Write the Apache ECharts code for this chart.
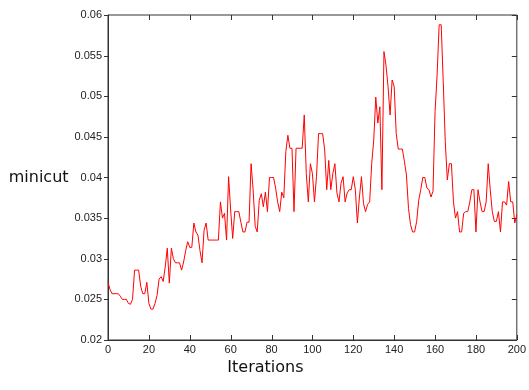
<!DOCTYPE html>
<html>
<head>
<meta charset="utf-8">
<script src="https://cdn.jsdelivr.net/npm/echarts@6/dist/echarts.min.js"></script>
<style>
  html, body { margin: 0; padding: 0; background: #fff; }
  #main { width: 529px; height: 390px; }
</style>
</head>
<body>
<div id="main"></div>
<script>
// minicut value per iteration (0..200)
const minicut = [
  0.0271, 0.0262, 0.0257, 0.0257, 0.0257, 0.0257, 0.0254, 0.0250, 0.0250, 0.0250,
  0.0245, 0.0244, 0.0250, 0.0286, 0.0286, 0.0286, 0.0266, 0.0257, 0.0257, 0.0271,
  0.0245, 0.0238, 0.0238, 0.0245, 0.0255, 0.0275, 0.0278, 0.0272, 0.0290, 0.0313,
  0.0270, 0.0313, 0.0300, 0.0295, 0.0295, 0.0295, 0.0286, 0.0296, 0.0310, 0.0321,
  0.0314, 0.0314, 0.0344, 0.0333, 0.0329, 0.0310, 0.0295, 0.0335, 0.0344, 0.0323,
  0.0323, 0.0323, 0.0323, 0.0323, 0.0323, 0.0370, 0.0350, 0.0356, 0.0323, 0.0401,
  0.0360, 0.0325, 0.0358, 0.0358, 0.0358, 0.0345, 0.0333, 0.0333, 0.0345, 0.0345,
  0.0417, 0.0385, 0.0340, 0.0333, 0.0372, 0.0380, 0.0364, 0.0382, 0.0358, 0.0400,
  0.0400, 0.0400, 0.0387, 0.0370, 0.0358, 0.0382, 0.0375, 0.0432, 0.0452, 0.0436,
  0.0436, 0.0358, 0.0436, 0.0436, 0.0436, 0.0436, 0.0477, 0.0405, 0.0370, 0.0417,
  0.0405, 0.0370, 0.0401, 0.0454, 0.0454, 0.0454, 0.0434, 0.0385, 0.0421, 0.0385,
  0.0405, 0.0417, 0.0381, 0.0370, 0.0393, 0.0401, 0.0370, 0.0381, 0.0385, 0.0385,
  0.0401, 0.0385, 0.0344, 0.0376, 0.0401, 0.0368, 0.0358, 0.0367, 0.0370, 0.0417,
  0.0446, 0.0499, 0.0467, 0.0487, 0.0385, 0.0555, 0.0538, 0.0512, 0.0477, 0.0520,
  0.0512, 0.0454, 0.0435, 0.0435, 0.0435, 0.0420, 0.0403, 0.0362, 0.0342, 0.0333,
  0.0333, 0.0346, 0.0372, 0.0385, 0.0400, 0.0400, 0.0387, 0.0385, 0.0376, 0.0383,
  0.0481, 0.0526, 0.0588, 0.0588, 0.0518, 0.0444, 0.0397, 0.0417, 0.0417, 0.0370,
  0.0350, 0.0358, 0.0333, 0.0333, 0.0356, 0.0358, 0.0358, 0.0370, 0.0385, 0.0385,
  0.0333, 0.0385, 0.0370, 0.0358, 0.0358, 0.0370, 0.0417, 0.0385, 0.0358, 0.0346,
  0.0346, 0.0358, 0.0333, 0.0370, 0.0370, 0.0366, 0.0395, 0.0370, 0.0370, 0.0344,
  0.0354
];
const iterations = minicut.map((v, i) => i);

// tick positions (MATLAB style box with ticks)
const xTicks = [0, 20, 40, 60, 80, 100, 120, 140, 160, 180, 200];
const yTicks = [0.02, 0.025, 0.03, 0.035, 0.04, 0.045, 0.05, 0.055, 0.06];

const xMin = 0, xMax = 200, xStep = 20;
const yMin = 0.02, yMax = 0.06, yStep = 0.005;

var chartDom = document.getElementById('main');
var myChart = echarts.init(chartDom, null, { renderer: 'canvas' });

const axisColor = '#333';
const labelStyle = { fontFamily: 'Liberation Sans', fontSize: 11, color: '#222' };
const yFmt = v => String(+v.toFixed(3));

// ticks drawn through the axes' own coord system
const tickData = xTicks.map(v => [v, yMin, 0]).concat(yTicks.map(v => [xMin, v, 1]));
function renderTick(params, api) {
  const crisp = n => Math.round(n) + 0.5;
  const style = { stroke: axisColor, lineWidth: 1 };
  if (api.value(2) === 0) {
    const b = api.coord([api.value(0), yMin]);
    const t = api.coord([api.value(0), yMax]);
    const x = crisp(b[0]);
    return { type: 'group', children: [
      { type: 'line', shape: { x1: x, y1: b[1], x2: x, y2: b[1] - 5 }, style: style },
      { type: 'line', shape: { x1: x, y1: t[1], x2: x, y2: t[1] + 5 }, style: style }
    ] };
  }
  const l = api.coord([xMin, api.value(1)]);
  const r = api.coord([xMax, api.value(1)]);
  const y = crisp(l[1]);
  return { type: 'group', children: [
    { type: 'line', shape: { x1: l[0] - 4, y1: y, x2: l[0], y2: y }, style: style },
    { type: 'line', shape: { x1: r[0], y1: y, x2: r[0] - 5, y2: y }, style: style }
  ] };
}

var option = {
  animation: false,
  grid: {
    left: 108, right: 10, top: 15, bottom: 50, containLabel: false,
    show: true, borderColor: axisColor, borderWidth: 1, backgroundColor: 'transparent'
  },
  xAxis: {
    type: 'value', min: xMin, max: xMax, interval: xStep,
    name: 'Iterations', nameLocation: 'middle', nameGap: 20,
    nameTextStyle: { fontFamily: 'DejaVu Sans', fontSize: 16, color: '#111', padding: [0, 94, 0, 0] },
    axisLine: { show: true, onZero: false, lineStyle: { color: axisColor } },
    axisTick: { show: false },
    axisLabel: Object.assign({ margin: 4 }, labelStyle),
    splitLine: { show: false }
  },
  yAxis: {
    type: 'value', min: yMin, max: yMax, interval: yStep,
    name: 'minicut', nameLocation: 'middle', nameRotate: 0, nameGap: 37,
    nameTextStyle: { fontFamily: 'DejaVu Sans', fontSize: 16, color: '#111', padding: [0, 0, 29, 0] },
    axisLine: { show: true, onZero: false, lineStyle: { color: axisColor } },
    axisTick: { show: false },
    axisLabel: Object.assign({ margin: 6, formatter: yFmt }, labelStyle),
    splitLine: { show: false }
  },
  series: [
    {
      name: 'minicut',
      type: 'line',
      showSymbol: false,
      lineStyle: { color: '#ff0000', width: 1 },
      data: iterations.map((x, i) => [x, minicut[i]])
    },
    {
      name: 'ticks',
      type: 'custom',
      silent: true,
      clip: false,
      renderItem: renderTick,
      data: tickData
    }
  ]
};

option && myChart.setOption(option);
</script>
</body>
</html>
